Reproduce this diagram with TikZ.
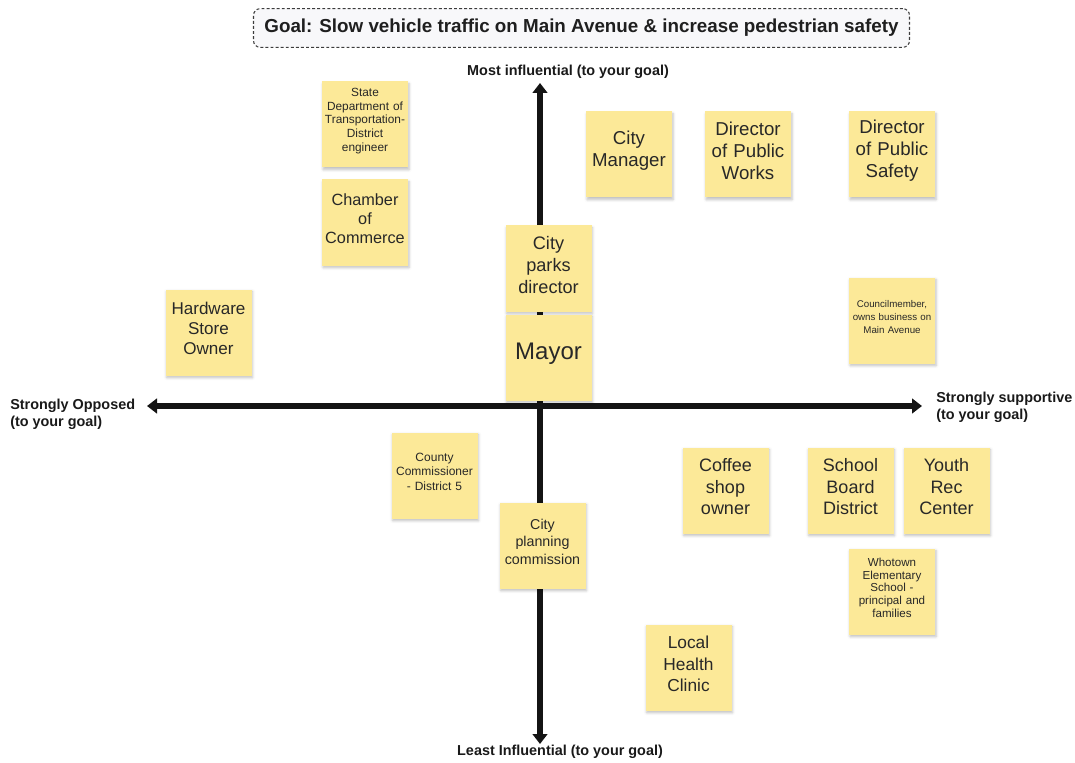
\documentclass[tikz,border=0pt]{standalone}
\usepackage{fontspec}
\setmainfont{Liberation Sans}
\usetikzlibrary{arrows.meta,shadows.blur}

\definecolor{notefill}{RGB}{252,233,152}
\definecolor{notetext}{RGB}{40,40,40}
\definecolor{goalfill}{RGB}{248,248,250}
\definecolor{goaldraw}{RGB}{60,60,60}

\tikzset{
  stickynote/.style={
    draw=none, fill=notefill, text=notetext, align=center,
    minimum width=64.5pt, minimum height=64.5pt, inner sep=1pt,
    text width=62pt,
    execute at end node={\par\vspace*{5.5pt}},
    blur shadow={shadow xshift=0.8pt, shadow yshift=-1.6pt,
                 shadow blur radius=2pt, shadow opacity=25}
  },
  fbig/.style={font=\fontsize{18}{20}\selectfont},
  flarge/.style={font=\fontsize{14}{16.3}\selectfont},
  fmed/.style={font=\fontsize{12.2}{14.3}\selectfont},
  fsmall/.style={font=\fontsize{10.7}{13}\selectfont},
  ftiny/.style={font=\fontsize{8.9}{10.3}\selectfont},
  fmicro/.style={font=\fontsize{7.3}{9.7}\selectfont},
  axislabel/.style={font=\bfseries\fontsize{10.8}{12.8}\selectfont, text=black!90, inner sep=0pt},
  axisarrow/.style={line width=4pt, black!92,
    {Triangle[length=7.5pt,width=11pt]}-{Triangle[length=7.5pt,width=11pt]}}
}

\begin{document}
\begin{tikzpicture}[x=0.75pt,y=-0.75pt]
  \useasboundingbox (0,0) rectangle (1075,763);

  % goal banner
  \node (goal) [draw=goaldraw, fill=goalfill, rounded corners=5pt,
    dash pattern=on 2.2pt off 1.6pt, line width=0.8pt,
    minimum width=492pt, minimum height=29pt, inner sep=0pt,
    font=\bfseries\fontsize{14.1}{16}\selectfont, text=black!88]
    at (581.5,28) {Goal: Slow vehicle traffic on Main Avenue \& increase pedestrian safety};

  % axes
  \coordinate (west)  at (147,406);
  \coordinate (east)  at (922,406);
  \coordinate (north) at (540,83);
  \coordinate (south) at (540,744);
  \draw[axisarrow] (west) -- (east);
  \draw[axisarrow] (south) -- (north);

  % axis labels
  \node (most)  [axislabel, anchor=center] at (568,72) {Most influential (to your goal)};
  \node (least) [axislabel, anchor=center] at (560,752) {Least Influential (to your goal)};
  \node (opp)   [axislabel, anchor=west, align=left] at (10,414) {Strongly Opposed\\(to your goal)};
  \node (supp)  [axislabel, anchor=west, align=left] at (936,407) {Strongly supportive\\(to your goal)};

  % stakeholder notes
  \node (state)   [stickynote, ftiny]  at (365,124.5) {State\\Department of\\Transportation-\\District\\engineer};
  \node (chamber) [stickynote, fmed]   at (365,222.5) {Chamber\\of\\Commerce};
  \node (citymgr) [stickynote, flarge] at (629,154.5) {City\\Manager};
  \node (dpw)     [stickynote, flarge] at (748,154.5) {Director\\of Public\\Works};
  \node (dps)     [stickynote, flarge] at (892,154.5) {Director\\of Public\\Safety};
  \node (parks)   [stickynote, font=\fontsize{13.6}{16.4}\selectfont] at (548.5,268.5) {City\\parks\\director};
  \node (mayor)   [stickynote, fbig]   at (548.5,357.5) {Mayor};
  \node (hardware)[stickynote, font=\fontsize{12.8}{15}\selectfont] at (208.5,332.5) {Hardware\\Store\\Owner};
  \node (council) [stickynote, fmicro] at (892,320.5) {Councilmember,\\owns business on\\Main Avenue};
  \node (county)  [stickynote, font=\fontsize{9}{11.2}\selectfont] at (434.5,475.5) {County\\Commissioner\\- District 5};
  \node (planning)[stickynote, fsmall] at (542.5,545.5) {City\\planning\\commission};
  \node (coffee)  [stickynote, font=\fontsize{13.5}{16.2}\selectfont] at (725.5,490.5) {Coffee\\shop\\owner};
  \node (school)  [stickynote, font=\fontsize{13.5}{16.2}\selectfont] at (850.5,490.5) {School\\Board\\District};
  \node (youth)   [stickynote, font=\fontsize{13.5}{16.2}\selectfont] at (946.5,490.5) {Youth\\Rec\\Center};
  \node (whotown) [stickynote, font=\fontsize{8.7}{9.5}\selectfont] at (892,591.5) {Whotown\\Elementary\\School -\\principal and\\families};
  \node (clinic)  [stickynote, font=\fontsize{13}{15.8}\selectfont] at (688.5,667.5) {Local\\Health\\Clinic};
\end{tikzpicture}
\end{document}
